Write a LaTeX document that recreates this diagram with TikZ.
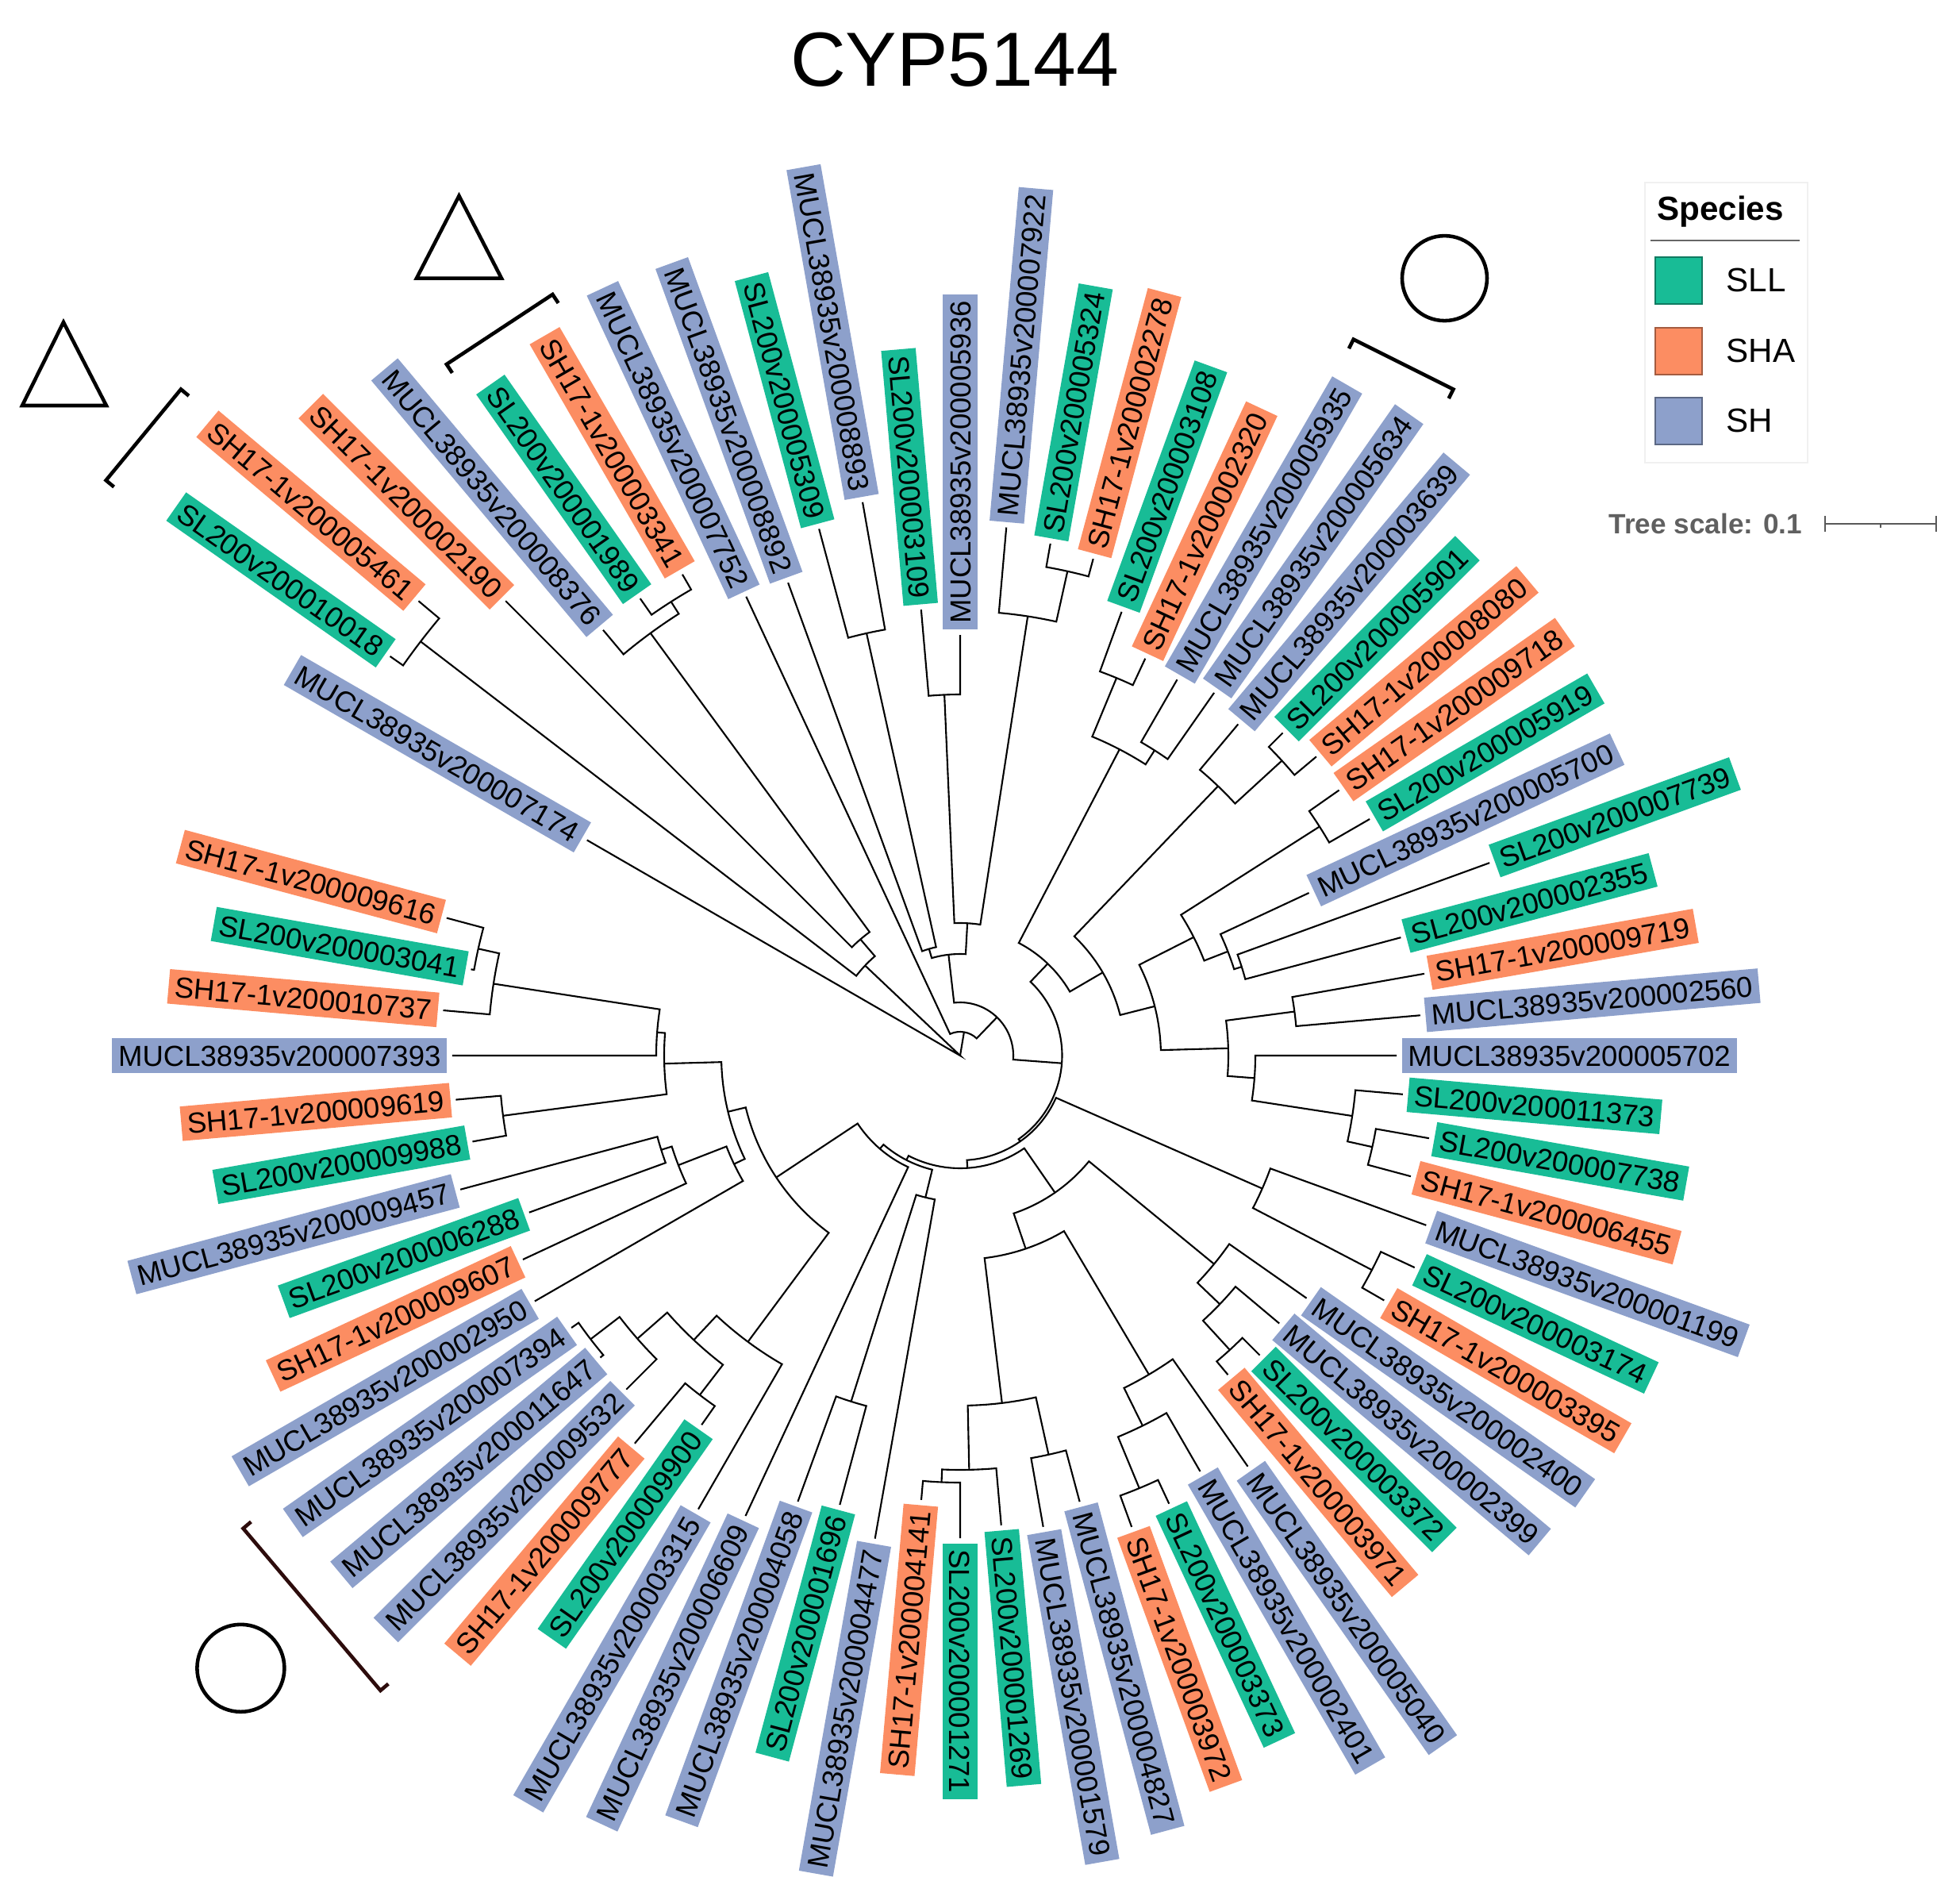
\documentclass[tikz,border=0pt]{standalone}
\usepackage{fontspec}
\setmainfont{Liberation Sans}
\definecolor{cG}{RGB}{24,188,150}
\definecolor{cO}{RGB}{252,141,98}
\definecolor{cB}{RGB}{141,160,203}
\newcommand\Bn[5]{\draw[br] (#2:#3) -- (#2:#1) arc[start angle=#2,end angle=#4,radius=#1] -- (#4:#5);}
\newcommand\LR[5]{\pgfmathsetmacro\myrad{#2+0.06}\node[lbl,fill=#3,rotate=#1,anchor=west] (#4) at (#1:\myrad) {#5};}
\newcommand\LL[5]{\pgfmathsetmacro\myrad{#2+0.06}\pgfmathsetmacro\myang{#1+180}\node[lbl,fill=#3,rotate=\myang,anchor=east] (#4) at (#1:\myrad) {#5};}
\begin{document}
\begin{tikzpicture}[
  br/.style={line width=0.6pt},
  lbl/.style={inner xsep=2.2pt, inner ysep=0pt, minimum height=12.4pt, text height=7.6pt, text depth=0pt, font=\fontsize{10.4}{12}\selectfont},
  mk/.style={line width=1.3pt}
]
\useasboundingbox (-12.10,-10.68) rectangle (12.55,13.30);
% title
\node[font=\fontsize{27.5}{30}\selectfont] (title) at (-0.07,12.55) {CYP5144};
% ---- tree ----
\draw[br] (-210:5.43) -- (0,0) -- (136.56:1.65);
\draw[br] (0,0) -- (80.56:0.30);
\Bn{8.57}{145}{8.77}{140}{8.91}
\Bn{1.65}{142.5}{8.57}{130.625}{1.93}
\Bn{1.93}{135}{8.10}{126.25}{6.60}
\Bn{6.60}{130}{7.00}{122.5}{6.78}
\Bn{6.78}{125}{7.03}{120}{7.00}
\Bn{0.30}{115}{6.38}{46.12}{0.67}
\Bn{0.67}{96.56}{1.28}{-4.32}{1.285}
\Bn{1.28}{106.25}{1.40}{86.875}{1.67}
\Bn{1.40}{110}{6.34}{102.5}{5.45}
\Bn{5.45}{105}{6.87}{100}{7.08}
\Bn{1.67}{92.5}{4.55}{81.25}{5.60}
\Bn{4.55}{95}{5.64}{90}{5.30}
\Bn{5.60}{85}{6.68}{77.5}{6.25}
\Bn{6.25}{80}{6.55}{75}{6.48}
\Bn{1.285}{46.37}{1.60}{-55.02}{1.32}
\Bn{1.60}{62.5}{4.35}{30.23}{2.08}
\Bn{4.35}{67.5}{5.15}{57.5}{4.56}
\Bn{5.15}{70}{5.95}{65}{5.52}
\Bn{4.56}{60}{5.47}{55}{5.58}
\Bn{2.08}{46.25}{4.70}{14.22}{2.53}
\Bn{4.70}{50}{5.45}{42.5}{5.50}
\Bn{5.50}{45}{5.75}{40}{5.86}
\Bn{2.53}{26.875}{3.30}{1.5625}{3.38}
\Bn{3.30}{32.5}{5.37}{21.25}{3.62}
\Bn{5.37}{35}{5.83}{30}{5.96}
\Bn{3.62}{25}{4.85}{17.5}{3.72}
\Bn{3.72}{20}{7.10}{15}{5.75}
\Bn{3.38}{7.5}{4.25}{-4.375}{3.72}
\Bn{4.25}{10}{5.94}{5}{5.82}
\Bn{3.72}{0}{5.50}{-8.75}{5.00}
\Bn{5.00}{-5}{5.60}{-12.5}{5.32}
\Bn{5.32}{-10}{6.00}{-15}{5.88}
\Bn{1.32}{-23.75}{4.16}{-86.28}{1.42}
\Bn{4.16}{-20}{6.25}{-27.5}{5.85}
\Bn{5.85}{-25}{6.32}{-30}{6.17}
\Bn{1.42}{-55.31}{2.10}{-117.25}{1.48}
\Bn{2.10}{-39.375}{4.14}{-71.25}{2.57}
\Bn{4.14}{-35}{5.33}{-43.75}{4.53}
\Bn{4.53}{-40}{5.25}{-47.5}{5.03}
\Bn{5.03}{-45}{5.34}{-50}{5.25}
\Bn{2.57}{-59.375}{4.67}{-83.125}{4.41}
\Bn{4.67}{-55}{6.32}{-63.75}{5.20}
\Bn{5.20}{-60}{6.05}{-67.5}{5.90}
\Bn{5.90}{-65}{6.23}{-70}{6.32}
\Bn{4.41}{-77.5}{5.15}{-88.75}{5.22}
\Bn{5.15}{-75}{5.82}{-80}{6.03}
\Bn{5.22}{-85}{5.94}{-92.5}{5.38}
\Bn{5.38}{-90}{6.08}{-95}{5.62}
\Bn{1.48}{-103.75}{1.84}{-130.74}{1.55}
\Bn{1.84}{-100}{6.18}{-107.5}{4.57}
\Bn{4.57}{-105}{5.86}{-110}{5.98}
\Bn{1.55}{-115}{6.40}{-146.48}{2.78}
\Bn{2.78}{-126.56}{4.49}{-166.4}{3.01}
\Bn{4.49}{-120}{6.60}{-133.125}{4.91}
\Bn{4.91}{-127.5}{5.39}{-138.75}{5.41}
\Bn{5.39}{-125}{5.68}{-130}{6.38}
\Bn{5.41}{-135}{5.95}{-142.5}{5.87}
\Bn{5.87}{-140}{5.92}{-145}{5.98}
\Bn{3.01}{-154.375}{3.16}{-178.44}{3.73}
\Bn{3.16}{-150}{6.19}{-158.75}{3.81}
\Bn{3.81}{-155}{6.08}{-162.5}{3.95}
\Bn{3.95}{-160}{5.78}{-165}{6.52}
\Bn{3.73}{-172.5}{5.81}{-184.375}{3.83}
\Bn{5.81}{-170}{6.24}{-175}{6.38}
\Bn{3.83}{-180}{6.40}{-188.75}{5.95}
\Bn{5.95}{-185}{6.54}{-192.5}{6.22}
\Bn{6.22}{-190}{6.26}{-195}{6.70}
% ---- labels ----
\LL{145}{8.77}{cG}{l1}{SL200v200010018}
\LL{140}{8.91}{cO}{l2}{SH17-1v200005461}
\LL{135}{8.10}{cO}{l3}{SH17-1v200002190}
\LL{130}{7.00}{cB}{l4}{MUCL38935v200008376}
\LL{125}{7.03}{cG}{l5}{SL200v200001989}
\LL{120}{7.00}{cO}{l6}{SH17-1v200003341}
\LL{115}{6.38}{cB}{l7}{MUCL38935v200007752}
\LL{110}{6.34}{cB}{l8}{MUCL38935v200008892}
\LL{105}{6.87}{cG}{l9}{SL200v200005309}
\LL{100}{7.08}{cB}{l10}{MUCL38935v200008893}
\LL{95}{5.64}{cG}{l11}{SL200v200003109}
\LR{90}{5.30}{cB}{l12}{MUCL38935v200005936}
\LR{85}{6.68}{cB}{l13}{MUCL38935v200007922}
\LR{80}{6.55}{cG}{l14}{SL200v200005324}
\LR{75}{6.48}{cO}{l15}{SH17-1v200002278}
\LR{70}{5.95}{cG}{l16}{SL200v200003108}
\LR{65}{5.52}{cO}{l17}{SH17-1v200002320}
\LR{60}{5.47}{cB}{l18}{MUCL38935v200005935}
\LR{55}{5.58}{cB}{l19}{MUCL38935v200005634}
\LR{50}{5.45}{cB}{l20}{MUCL38935v200003639}
\LR{45}{5.75}{cG}{l21}{SL200v200005901}
\LR{40}{5.86}{cO}{l22}{SH17-1v200008080}
\LR{35}{5.83}{cO}{l23}{SH17-1v200009718}
\LR{30}{5.96}{cG}{l24}{SL200v200005919}
\LR{25}{4.85}{cB}{l25}{MUCL38935v200005700}
\LR{20}{7.10}{cG}{l26}{SL200v200007739}
\LR{15}{5.75}{cG}{l27}{SL200v200002355}
\LR{10}{5.94}{cO}{l28}{SH17-1v200009719}
\LR{5}{5.82}{cB}{l29}{MUCL38935v200002560}
\LR{0}{5.50}{cB}{l30}{MUCL38935v200005702}
\LR{-5}{5.60}{cG}{l31}{SL200v200011373}
\LR{-10}{6.00}{cG}{l32}{SL200v200007738}
\LR{-15}{5.88}{cO}{l33}{SH17-1v200006455}
\LR{-20}{6.25}{cB}{l34}{MUCL38935v200001199}
\LR{-25}{6.32}{cG}{l35}{SL200v200003174}
\LR{-30}{6.17}{cO}{l36}{SH17-1v200003395}
\LR{-35}{5.33}{cB}{l37}{MUCL38935v200002400}
\LR{-40}{5.25}{cB}{l38}{MUCL38935v200002399}
\LR{-45}{5.34}{cG}{l39}{SL200v200003372}
\LR{-50}{5.25}{cO}{l40}{SH17-1v200003971}
\LR{-55}{6.32}{cB}{l41}{MUCL38935v200005040}
\LR{-60}{6.05}{cB}{l42}{MUCL38935v200002401}
\LR{-65}{6.23}{cG}{l43}{SL200v200003373}
\LR{-70}{6.32}{cO}{l44}{SH17-1v200003972}
\LR{-75}{5.82}{cB}{l45}{MUCL38935v200004827}
\LR{-80}{6.03}{cB}{l46}{MUCL38935v200001579}
\LR{-85}{5.94}{cG}{l47}{SL200v200001269}
\LR{-90}{6.08}{cG}{l48}{SL200v200001271}
\LL{-95}{5.62}{cO}{l49}{SH17-1v200004141}
\LL{-100}{6.18}{cB}{l50}{MUCL38935v200004477}
\LL{-105}{5.86}{cG}{l51}{SL200v200001696}
\LL{-110}{5.98}{cB}{l52}{MUCL38935v200004058}
\LL{-115}{6.40}{cB}{l53}{MUCL38935v200006609}
\LL{-120}{6.60}{cB}{l54}{MUCL38935v200003315}
\LL{-125}{5.68}{cG}{l55}{SL200v200009900}
\LL{-130}{6.38}{cO}{l56}{SH17-1v200009777}
\LL{-135}{5.95}{cB}{l57}{MUCL38935v200009532}
\LL{-140}{5.92}{cB}{l58}{MUCL38935v200011647}
\LL{-145}{5.98}{cB}{l59}{MUCL38935v200007394}
\LL{-150}{6.19}{cB}{l60}{MUCL38935v200002950}
\LL{-155}{6.08}{cO}{l61}{SH17-1v200009607}
\LL{-160}{5.78}{cG}{l62}{SL200v200006288}
\LL{-165}{6.52}{cB}{l63}{MUCL38935v200009457}
\LL{-170}{6.24}{cG}{l64}{SL200v200009988}
\LL{-175}{6.38}{cO}{l65}{SH17-1v200009619}
\LL{-180}{6.40}{cB}{l66}{MUCL38935v200007393}
\LL{-185}{6.54}{cO}{l67}{SH17-1v200010737}
\LL{-190}{6.26}{cG}{l68}{SL200v200003041}
\LL{-195}{6.70}{cO}{l69}{SH17-1v200009616}
\LL{-210}{5.43}{cB}{l70}{MUCL38935v200007174}
% ---- clade marks ----
\draw[mk] (-11.30,9.24) -- (-11.82,8.19) -- (-10.76,8.19) -- cycle;
\draw[mk] (-10.664,7.165) -- (-10.764,7.248) -- (-9.82,8.395) -- (-9.72,8.312);
\draw[mk] (-6.315,10.832) -- (-6.85,9.794) -- (-5.78,9.794) -- cycle;
\draw[mk] (-6.40,8.601) -- (-6.472,8.71) -- (-5.136,9.59) -- (-5.064,9.481);
\draw[mk] (6.105,9.794) circle (0.535);
\draw[mk] (4.899,8.908) -- (4.957,9.024) -- (6.215,8.395) -- (6.157,8.279);
\draw[mk] (-9.066,-7.718) circle (0.55);
\draw[mk, draw={rgb,255:red,45;green,12;blue,12}] (-8.936,-5.874) -- (-9.035,-5.958) -- (-7.305,-8.00) -- (-7.206,-7.916);
% ---- legend ----
\draw[gray!12, line width=0.6pt] (8.63,7.47) rectangle (10.68,11.00);
\node[font=\bfseries\fontsize{12}{14}\selectfont] (sp) at (9.58,10.63) {Species};
\draw[gray!80!black, line width=0.8pt] (8.70,10.27) -- (10.58,10.27);
\node[draw=cG!65!black, fill=cG, minimum size=0.59cm, inner sep=0pt, line width=0.8pt] (kG) at (9.055,9.765) {};
\node[draw=cO!65!black, fill=cO, minimum size=0.59cm, inner sep=0pt, line width=0.8pt] (kO) at (9.055,8.875) {};
\node[draw=cB!65!black, fill=cB, minimum size=0.59cm, inner sep=0pt, line width=0.8pt] (kB) at (9.055,7.995) {};
\node[anchor=west, inner sep=0pt, font=\fontsize{12}{14}\selectfont] (tG) at (9.65,9.77) {SLL};
\node[anchor=west, inner sep=0pt, font=\fontsize{12}{14}\selectfont] (tO) at (9.65,8.88) {SHA};
\node[anchor=west, inner sep=0pt, font=\fontsize{12}{14}\selectfont] (tB) at (9.65,8.00) {SH};
% ---- tree scale ----
\node[anchor=east, inner sep=0pt, text=gray!75!black, font=\bfseries\fontsize{10}{12}\selectfont] (ts) at (10.62,6.70) {Tree scale: 0.1};
\draw[gray!70!black, line width=0.7pt] (10.90,6.70) -- (12.30,6.70);
\draw[gray!70!black, line width=0.7pt] (10.90,6.60) -- (10.90,6.80);
\draw[gray!70!black, line width=0.7pt] (12.30,6.60) -- (12.30,6.80);
\draw[gray!70!black, line width=0.7pt] (11.60,6.70) -- (11.60,6.65);
\end{tikzpicture}
\end{document}
